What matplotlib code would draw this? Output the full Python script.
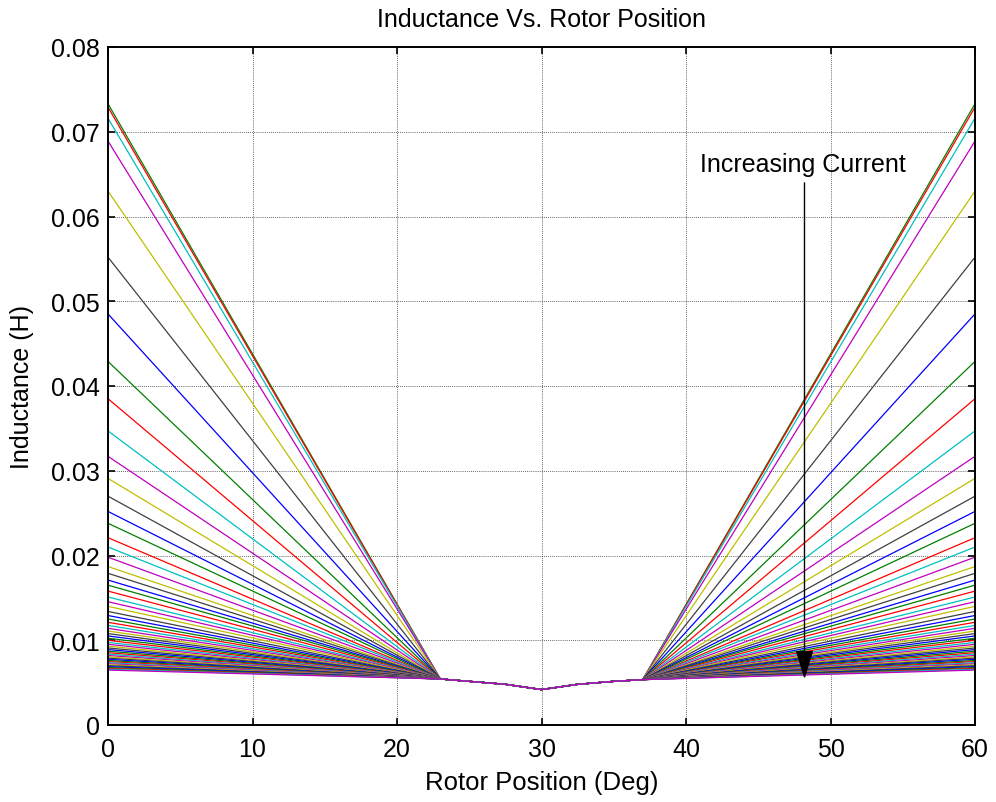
import numpy as np
import matplotlib
matplotlib.use("Agg")
import matplotlib.pyplot as plt

plt.rcParams['font.family'] = ['Liberation Sans', 'DejaVu Sans']

# ## Data
# inductance at the aligned positions (0 deg and 60 deg), one value per current step
L_aligned = [
    0.0,
    0.0733, 0.0729, 0.0716, 0.0689, 0.0630, 0.0552, 0.0485,
    0.0429, 0.0385, 0.0347, 0.0317, 0.0291, 0.0270, 0.0252,
    0.0238, 0.0221, 0.0210, 0.0198, 0.0187, 0.0179, 0.0171,
    0.0165, 0.0158, 0.0151, 0.01455, 0.0140, 0.0134, 0.01292,
    0.01251, 0.01212, 0.01175, 0.01141, 0.01109, 0.01079, 0.01051,
    0.01024, 0.00999, 0.00974, 0.00952, 0.00930, 0.00909, 0.00890,
    0.00871, 0.00853, 0.00836, 0.00820, 0.00804, 0.00789, 0.00775,
    0.00761, 0.00748, 0.00735, 0.00723, 0.00711, 0.00700, 0.00689,
    0.00678, 0.00668, 0.00658, 0.00648,
]

# common (unaligned) part of all curves
pos_common = [23, 25, 27.5, 30, 32.5, 35, 37]
L_common = [0.00543, 0.00515, 0.0048, 0.00418, 0.0048, 0.00515, 0.00535]

pos_start = 0
pos_end = 60

# MATLAB colour order
warna = [(0, 0, 1), (0, 0.5, 0), (1, 0, 0), (0, 0.75, 0.75),
         (0.75, 0, 0.75), (0.75, 0.75, 0), (0.25, 0.25, 0.25)]

fig = plt.figure(figsize=(9.96, 8.03), dpi=100)
ax = fig.add_axes([108 / 996, 1 - 726 / 803, (975 - 108) / 996, (726 - 48) / 803])

for i, L0 in enumerate(L_aligned):
    c = warna[i % len(warna)]
    if L0 == 0:
        ax.plot([pos_start, pos_end], [0, 0], color=c, lw=1.0)
        continue
    x = [pos_start] + pos_common + [pos_end]
    y = [L0] + L_common + [L0]
    ax.plot(x, y, color=c, lw=0.9)

ax.set_xlim(0, 60)
ax.set_ylim(0, 0.08)
ax.set_xticks(np.arange(0, 61, 10))
ax.set_yticks(np.arange(0, 0.081, 0.01))
ax.set_yticklabels(['0', '0.01', '0.02', '0.03', '0.04', '0.05', '0.06', '0.07', '0.08'])

ax.grid(True, color='k', linestyle=(0, (1, 1.5)), lw=0.6, alpha=0.8)
ax.tick_params(direction='in', length=5, width=1.2, top=True, right=True, labelsize=18)
ax.tick_params(axis='x', pad=9)
ax.tick_params(axis='y', pad=6)
for s in ax.spines.values():
    s.set_linewidth(1.4)

ax.set_title('Inductance Vs. Rotor Position', fontsize=18, pad=15)
ax.set_xlabel('Rotor Position (Deg)', fontsize=18.5, labelpad=6)
ax.set_ylabel('Inductance (H)', fontsize=18, labelpad=12)

ax.annotate('', xy=(48.2, 0.0051), xytext=(48.2, 0.0643),
            arrowprops=dict(arrowstyle='-|>,head_length=0.45,head_width=0.14',
                            color='k', lw=1.0, mutation_scale=40))
ax.text(41.0, 0.0662, 'Increasing Current', fontsize=18, ha='left', va='center')

plt.savefig('out.png', dpi=100)
